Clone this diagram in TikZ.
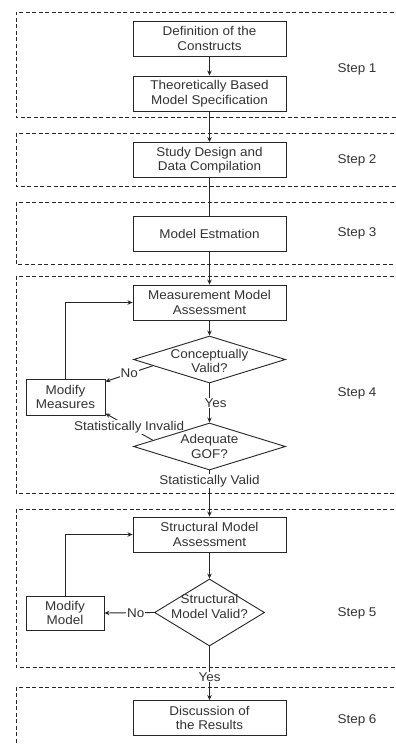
\documentclass[tikz,border=0pt]{standalone}
\usepackage{fontspec}
\setmainfont{Liberation Sans}[FakeStretch=1.06]
\usetikzlibrary{shapes.geometric,arrows.meta,calc,backgrounds}
\begin{document}
\begin{tikzpicture}[x=1pt,y=-1pt,
  font=\fontsize{12.7}{14.5}\selectfont,
  every node/.style={text=black!80, align=center},
  box/.style={draw=black!85, line width=0.9pt, fill=white, minimum width=153pt, minimum height=35pt, inner sep=1pt},
  dec/.style={draw=black!85, line width=0.9pt, diamond, fill=white, inner sep=0pt},
  lab/.style={fill=white, inner sep=1pt},
  arr/.style={draw=black!85, line width=0.9pt, -{Stealth[length=5pt,width=4.5pt]}},
  ln/.style={draw=black!85, line width=0.9pt},
  zone/.style={draw=black!85, line width=0.7pt, dash pattern=on 4pt off 2.5pt}]

\node[box] (def) at (209.5,38.5) {Definition of the\\Constructs};
\node[box] (theo) at (209.5,93.5) {Theoretically Based\\Model Specification};
\node[box] (study) at (209.5,160) {Study Design and\\Data Compilation};
\node[box] (est) at (209.5,233.5) {Model Estmation};
\node[box] (meas) at (209.5,302.5) {Measurement Model\\Assessment};
\node[dec, minimum width=152pt, minimum height=47pt] (cv) at (209.5,359.5) {};
\node (cvt) at ([yshift=-1.5pt]cv.center) {Conceptually\\Valid?};
\node[box, minimum width=79pt, minimum height=36pt] (mm) at (65.5,397) {Modify\\Measures};
\node[dec, minimum width=152pt, minimum height=47pt] (gof) at (209.5,446.5) {};
\node (goft) at (gof.center) {Adequate\\GOF?};
\node[box] (struc) at (209.5,534.5) {Structural Model\\Assessment};
\node[dec, minimum width=110pt, minimum height=67pt] (smv) at (209.5,612.5) {};
\node (smvt) at ([yshift=6pt]smv.center) {Structural\\Model Valid?};
\node[box, minimum width=78pt, minimum height=34pt] (mmod) at (65,613) {Modify\\Model};
\node[box] (disc) at (209.5,718) {Discussion of\\the Results};

\node (s1) at (357,69) {Step 1};
\node (s2) at (357,160) {Step 2};
\node (s3) at (357,233) {Step 3};
\node (s4) at (357,393) {Step 4};
\node (s5) at (357,613) {Step 5};
\node (s6) at (357,720) {Step 6};

\begin{pgfonlayer}{background}
\draw[zone] (400,12) -| (16,117) -- (400,117);
\draw[zone] (400,133) -| (16,186) -- (400,186);
\draw[zone] (400,202) -| (16,264) -- (400,264);
\draw[zone] (400,276) -| (16,493) -- (400,493);
\draw[zone] (400,509) -| (16,667) -- (400,667);
\draw[zone] (400,687) -| (16,760);

\draw[arr] (def) -- (theo);
\draw[arr] (theo) -- (study);
\draw[ln] (study) -- (est);
\draw[arr] (est) -- (meas);
\draw[arr] (meas.south) -- (cv.north);
\draw[arr] (cv.south) -- node[lab, xshift=6pt]{Yes} (gof.north);
\draw[arr] (gof.south) -- node[lab, pos=0.23]{Statistically Valid} (struc.north);
\draw[arr] ($(cv.west)!0.26!(cv.south)$) -- node[lab]{No} ([yshift=-3pt]mm.north east);
\draw[arr] ($(gof.west)!0.26!(gof.north)$) -- node[lab]{Statistically Invalid} ([yshift=2pt]mm.south east);
\draw[arr] (mm.north) |- (meas.west);
\draw[arr] (struc.south) -- (smv.north);
\draw[arr] (smv.west) -- node[lab, pos=0.37]{No} (mmod.east);
\draw[arr] (mmod.north) |- (struc.west);
\draw[arr] (smv.south) -- node[lab, pos=0.57]{Yes} (disc.north);
\end{pgfonlayer}

\pgfresetboundingbox
\useasboundingbox (0,0) rectangle (396,744);
\end{tikzpicture}
\end{document}
